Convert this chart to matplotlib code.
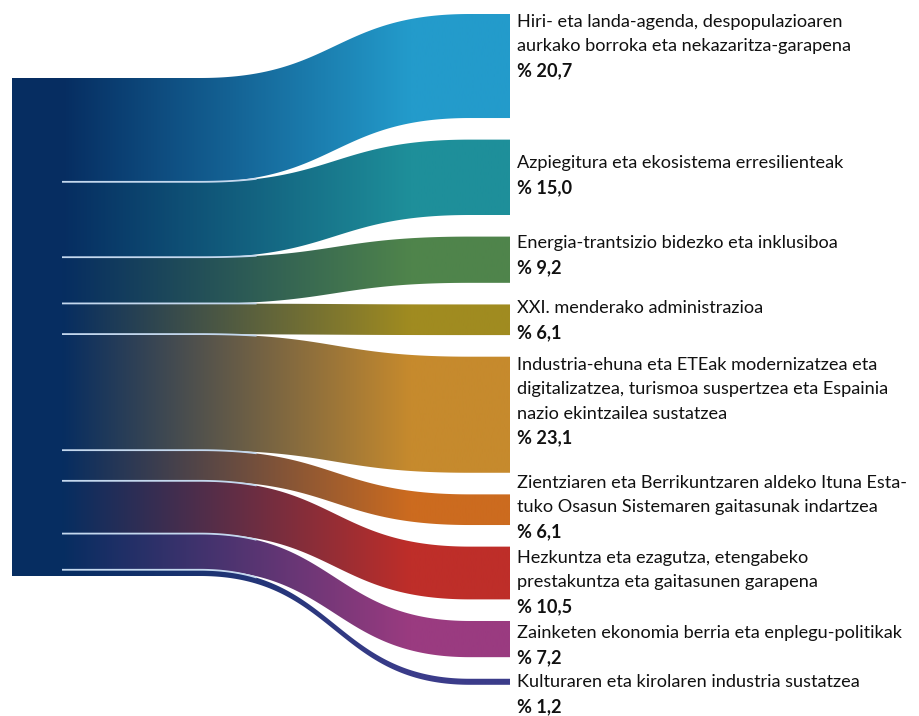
import numpy as np
import matplotlib
matplotlib.use("Agg")
import matplotlib.pyplot as plt
from matplotlib.patches import Polygon, Rectangle
from matplotlib.colors import to_rgb

# ---------------- data ----------------
labels = [
    "Hiri- eta landa-agenda, despopulazioaren\naurkako borroka eta nekazaritza-garapena",
    "Azpiegitura eta ekosistema erresilienteak",
    "Energia-trantsizio bidezko eta inklusiboa",
    "XXI. menderako administrazioa",
    "Industria-ehuna eta ETEak modernizatzea eta\ndigitalizatzea, turismoa suspertzea eta Espainia\nnazio ekintzailea sustatzea",
    "Zientziaren eta Berrikuntzaren aldeko Ituna Esta-\ntuko Osasun Sistemaren gaitasunak indartzea",
    "Hezkuntza eta ezagutza, etengabeko\nprestakuntza eta gaitasunen garapena",
    "Zainketen ekonomia berria eta enplegu-politikak",
    "Kulturaren eta kirolaren industria sustatzea",
]
values = [20.7, 15.0, 9.2, 6.1, 23.1, 6.1, 10.5, 7.2, 1.2]
value_labels = ["% 20,7", "% 15,0", "% 9,2", "% 6,1", "% 23,1", "% 6,1", "% 10,5", "% 7,2", "% 1,2"]

# ---------------- style / layout ----------------
colors = ["#239BCB", "#1E8F9A", "#4F844B", "#A08B20", "#C68A2D",
          "#CC6B1F", "#BE2E29", "#9A3B80", "#3B3C8A"]
navy = "#062D61"
W, H = 920, 716
src_x0, src_x1 = 12, 62
node_x = 510
curve_x0, curve_x1 = 200, 470
grad_x1 = 410
left_top = 78
left_bottom = 576
right_top = 14
right_gap = 21.6
label_x = 517
label_first_y = [22, 163, 243, 308, 365, 483, 558, 633, 682]
line_h = 24.3
font = "Lato"
fs = 13.1

plt.rcParams['font.family'] = [font, 'DejaVu Sans']

fig = plt.figure(figsize=(W / 100, H / 100), dpi=100)
ax = fig.add_axes([0, 0, 1, 1])
ax.set_xlim(0, W)
ax.set_ylim(H, 0)
ax.axis("off")

k = (left_bottom - left_top) / sum(values)
widths = [v * k for v in values]
lefts = left_top + np.concatenate([[0], np.cumsum(widths)[:-1]])
rights = right_top + np.concatenate([[0], np.cumsum(widths)[:-1]]) + right_gap * np.arange(len(values))


def edge(yl, yr, n=160):
    t = np.linspace(0, 1, n)
    xm = (curve_x0 + curve_x1) / 2
    bx = (1 - t) ** 3 * curve_x0 + 3 * (1 - t) ** 2 * t * xm + 3 * (1 - t) * t ** 2 * xm + t ** 3 * curve_x1
    by = (1 - t) ** 3 * yl + 3 * (1 - t) ** 2 * t * yl + 3 * (1 - t) * t ** 2 * yr + t ** 3 * yr
    xs = np.concatenate([[src_x1], bx, [node_x]])
    ys = np.concatenate([[yl], by, [yr]])
    return xs, ys


nav = np.array(to_rgb(navy))
xs_img = np.linspace(src_x1, node_x, 600)
tt = np.clip((xs_img - src_x1) / (grad_x1 - src_x1), 0, 1)

prev_bottom = None
for i, (yl, yr, w, c) in enumerate(zip(lefts, rights, widths, colors)):
    xt, yt = edge(yl, yr)
    xb, yb = edge(yl + w, yr + w)
    pts = np.column_stack([np.concatenate([xt, xb[::-1]]), np.concatenate([yt, yb[::-1]])])
    poly = Polygon(pts, closed=True, facecolor="none", edgecolor="none")
    ax.add_patch(poly)
    col = np.array(to_rgb(c))
    img = (nav[None, :] * (1 - tt[:, None]) + col[None, :] * tt[:, None])[None, :, :]
    im = ax.imshow(img, extent=[src_x1, node_x, H, 0], aspect="auto",
                   interpolation="bilinear", zorder=1)
    im.set_clip_path(poly)
    if prev_bottom is not None:
        gap = yt - prev_bottom
        mask = gap < 1.6
        ax.plot(xt[mask], yt[mask] - 0.2, color="#C4D8EE", lw=1.3, zorder=2,
                solid_capstyle="butt")
    prev_bottom = yb

ax.set_xlim(0, W)
ax.set_ylim(H, 0)

ax.add_patch(Rectangle((src_x0, left_top), src_x1 - src_x0, left_bottom - left_top,
                       facecolor=navy, edgecolor="none", zorder=3))

for lab, vl, y0 in zip(labels, value_labels, label_first_y):
    lines = lab.split("\n")
    for j, ln in enumerate(lines):
        ax.text(label_x, y0 + j * line_h, ln, fontsize=fs, color="#111111",
                va="center", ha="left")
    ax.text(label_x, y0 + len(lines) * line_h, vl, fontsize=fs, fontweight="bold",
            color="#111111", va="center", ha="left")

fig.savefig("out.png", dpi=100, facecolor="white")
